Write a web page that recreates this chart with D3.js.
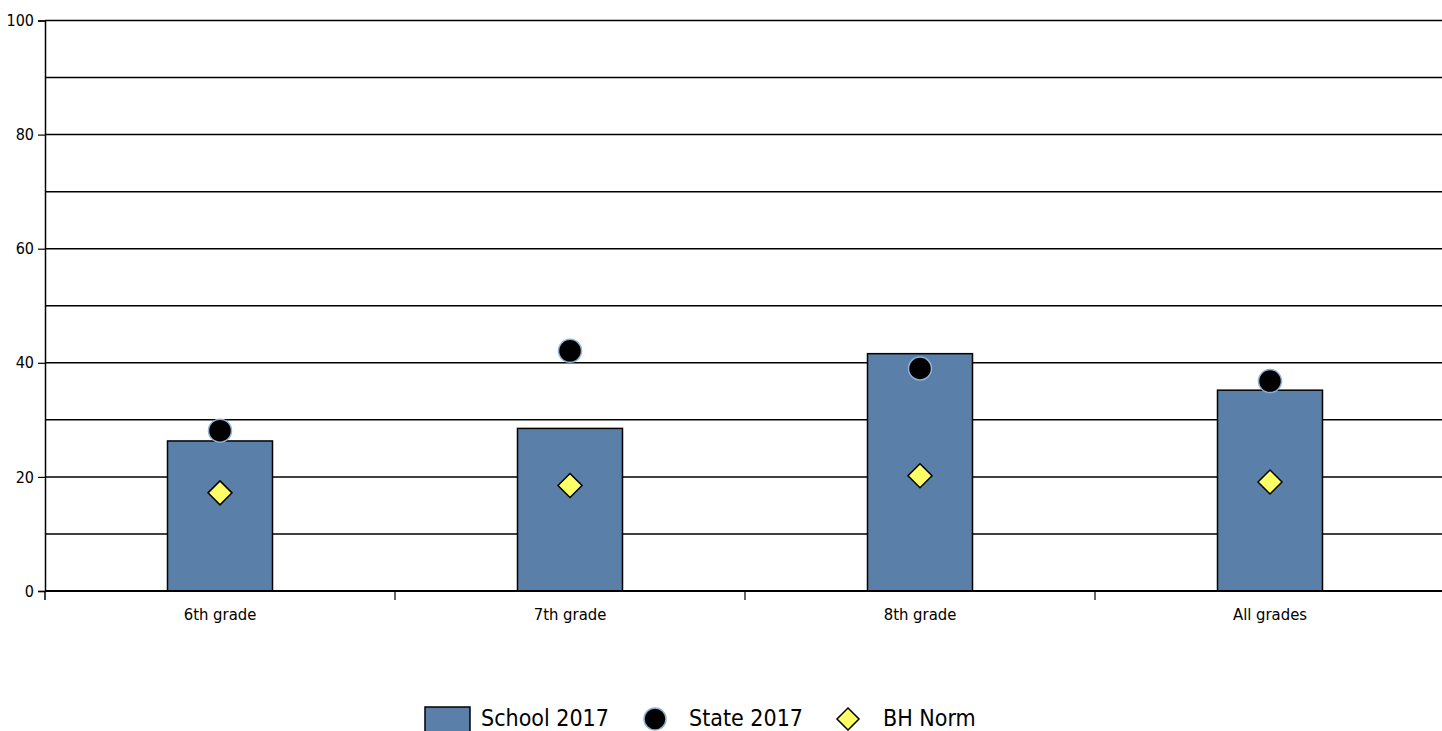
<!DOCTYPE html>
<html>
<head>
<meta charset="utf-8">
<script src="https://cdn.jsdelivr.net/npm/d3@7"></script>
<style>
  html, body { margin: 0; padding: 0; background: #fff; }
  svg { display: block; font-family: "DejaVu Sans Condensed", "Liberation Sans Narrow", sans-serif; font-stretch: condensed; }
</style>
</head>
<body>
<svg id="chart" width="1442" height="731"></svg>
<script>
// Percent of students by grade
const categories = ["6th grade", "7th grade", "8th grade", "All grades"];
const school2017 = [26.3, 28.5, 41.6, 35.2];
const state2017 = [28.1, 42.1, 39.0, 36.8];
const bhNorm = [17.2, 18.5, 20.2, 19.1];
const yTickLabels = [0, 20, 40, 60, 80, 100];
const gridValues = d3.range(0, 101, 10);
const legendLabels = ["School 2017", "State 2017", "BH Norm"];

const svg = d3.select("#chart");
const fontStack = "'DejaVu Sans Condensed', 'Liberation Sans Narrow', sans-serif";
const margin = { left: 45, top: 20.5, right: -3 };
const W = 1442;
const plotBottom = 591;

const x = d3.scaleBand().domain(categories).range([margin.left, W - margin.right]).paddingInner(0).paddingOuter(0);
const y = d3.scaleLinear().domain([0, 100]).range([plotBottom, margin.top]);

const barColor = "#5a7fa8";
const dotStroke = "#8fb3d6";
const diamondColor = "#ffff66";

// Horizontal gridlines every 10
svg.append("g").selectAll("line").data(gridValues).join("line")
  .attr("x1", margin.left).attr("x2", W)
  .attr("y1", d => y(d)).attr("y2", d => y(d))
  .attr("stroke", "#000").attr("stroke-width", 1.5);

// Y axis
const yAxis = svg.append("g").attr("transform", `translate(${margin.left},0)`)
  .call(d3.axisLeft(y).tickValues(yTickLabels).tickSize(7).tickPadding(4));
yAxis.select(".domain").attr("stroke", "#000").attr("stroke-width", 1.5);
yAxis.selectAll(".tick line").attr("stroke", "#000").attr("stroke-width", 1.2);
yAxis.selectAll(".tick text").attr("font-size", 16).attr("fill", "#000")
  .style("font-family", fontStack);

// Bars
const barW = x.bandwidth() * 0.3;
svg.append("g").selectAll("rect").data(categories).join("rect")
  .attr("x", (d) => x(d) + x.bandwidth() / 2 - barW / 2)
  .attr("y", (d, i) => y(school2017[i]))
  .attr("width", barW)
  .attr("height", (d, i) => y(0) - y(school2017[i]))
  .attr("fill", barColor)
  .attr("stroke", "#000").attr("stroke-width", 1.5);

// X axis
const xAxis = svg.append("g").attr("transform", `translate(0,${plotBottom})`)
  .call(d3.axisBottom(x).tickSize(0).tickPadding(17));
xAxis.select(".domain").remove();
svg.append("line").attr("x1", margin.left).attr("x2", W)
  .attr("y1", plotBottom).attr("y2", plotBottom)
  .attr("stroke", "#000").attr("stroke-width", 2);
// Category boundary ticks
svg.append("g").selectAll("line").data(categories.slice(1)).join("line")
  .attr("x1", d => x(d)).attr("x2", d => x(d))
  .attr("y1", plotBottom).attr("y2", plotBottom + 9)
  .attr("stroke", "#000").attr("stroke-width", 1.2);
svg.append("line").attr("x1", margin.left).attr("x2", margin.left)
  .attr("y1", plotBottom).attr("y2", plotBottom + 9)
  .attr("stroke", "#000").attr("stroke-width", 1.5);
xAxis.selectAll(".tick text").attr("font-size", 16.5).attr("fill", "#000")
  .style("font-family", fontStack);

// State dots
svg.append("g").selectAll("circle").data(categories).join("circle")
  .attr("cx", d => x(d) + x.bandwidth() / 2)
  .attr("cy", (d, i) => y(state2017[i]))
  .attr("r", 11.5)
  .attr("fill", "#000")
  .attr("stroke", dotStroke).attr("stroke-width", 1.5);

// BH Norm diamonds
const diamond = (cx, cy, r) => `M${cx},${cy - r}L${cx + r},${cy}L${cx},${cy + r}L${cx - r},${cy}Z`;
svg.append("g").selectAll("path").data(categories).join("path")
  .attr("d", (d, i) => diamond(x(d) + x.bandwidth() / 2, y(bhNorm[i]), 12))
  .attr("fill", diamondColor)
  .attr("stroke", "#000").attr("stroke-width", 1.5);

// Legend
const legend = svg.append("g").style("font-family", fontStack);
const ly = 718;
legend.append("rect").attr("x", 425).attr("y", 707).attr("width", 45).attr("height", 26)
  .attr("fill", barColor).attr("stroke", "#000").attr("stroke-width", 1.5);
legend.append("text").attr("x", 481).attr("y", ly).attr("dy", "0.35em")
  .attr("font-size", 23).text(legendLabels[0]);
legend.append("circle").attr("cx", 655).attr("cy", ly + 1).attr("r", 11)
  .attr("fill", "#000").attr("stroke", dotStroke).attr("stroke-width", 1.5);
legend.append("text").attr("x", 689).attr("y", ly).attr("dy", "0.35em")
  .attr("font-size", 23).text(legendLabels[1]);
legend.append("path").attr("d", diamond(848, ly + 1, 11))
  .attr("fill", diamondColor).attr("stroke", "#000").attr("stroke-width", 1.5);
legend.append("text").attr("x", 883).attr("y", ly).attr("dy", "0.35em")
  .attr("font-size", 23).text(legendLabels[2]);
</script>
</body>
</html>
